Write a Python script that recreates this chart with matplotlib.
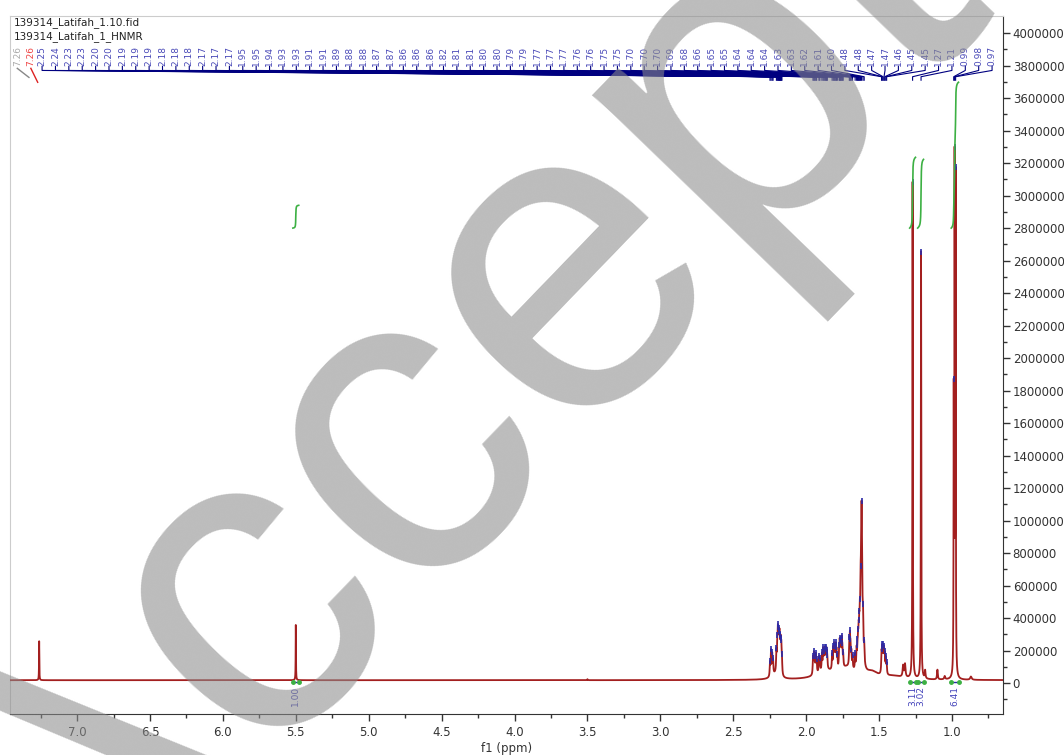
import numpy as np
import matplotlib
matplotlib.use("Agg")
import matplotlib.pyplot as plt

# picked peaks: printed label, position (ppm), height above baseline
peak_label = ["2.25", "2.24", "2.23", "2.23", "2.20", "2.20", "2.19", "2.19", "2.19", "2.18",
              "2.18", "2.18", "2.17", "2.17", "2.17", "1.95", "1.95", "1.94", "1.93", "1.93",
              "1.91", "1.91", "1.89", "1.88", "1.88", "1.87", "1.87", "1.86", "1.86", "1.86",
              "1.82", "1.81", "1.81", "1.80", "1.80", "1.79", "1.79", "1.77", "1.77", "1.77",
              "1.76", "1.76", "1.75", "1.75", "1.70", "1.70", "1.70", "1.69", "1.68", "1.66",
              "1.65", "1.65", "1.64", "1.64", "1.64", "1.63", "1.63", "1.62", "1.61", "1.60",
              "1.48", "1.48", "1.47", "1.47", "1.46", "1.45", "1.45", "1.27", "1.21", "0.99",
              "0.98", "0.97"]
peak_ppm = [2.248, 2.241, 2.233, 2.227, 2.204, 2.198, 2.194, 2.190, 2.186, 2.183,
            2.180, 2.176, 2.173, 2.170, 2.166, 1.953, 1.947, 1.941, 1.934, 1.928,
            1.912, 1.906, 1.892, 1.884, 1.878, 1.872, 1.866, 1.862, 1.858, 1.855,
            1.822, 1.814, 1.808, 1.803, 1.797, 1.792, 1.786, 1.774, 1.770, 1.766,
            1.762, 1.756, 1.752, 1.746, 1.704, 1.700, 1.696, 1.690, 1.682, 1.664,
            1.654, 1.648, 1.644, 1.640, 1.636, 1.632, 1.627, 1.620, 1.610, 1.602,
            1.483, 1.478, 1.472, 1.466, 1.461, 1.454, 1.448, 1.270, 1.212, 0.988,
            0.982, 0.975]
peak_height = [0.08, 0.15, 0.12, 0.08, 0.12, 0.15, 0.20, 0.17, 0.12, 0.15,
               0.11, 0.14, 0.10, 0.13, 0.08, 0.10, 0.12, 0.08, 0.11, 0.07,
               0.09, 0.07, 0.10, 0.12, 0.08, 0.11, 0.08, 0.09, 0.07, 0.05,
               0.09, 0.12, 0.13, 0.10, 0.13, 0.10, 0.07, 0.10, 0.13, 0.09,
               0.12, 0.15, 0.10, 0.07, 0.13, 0.16, 0.11, 0.09, 0.07, 0.09,
               0.11, 0.10, 0.13, 0.15, 0.16, 0.18, 0.22, 1.02, 0.18, 0.10,
               0.12, 0.14, 0.14, 0.13, 0.10, 0.09, 0.06, 3.06, 2.63, 1.66,
               3.08, 3.02]
peak_width = [0.0024] * 57 + [0.0055] + [0.0025] * 9 + [0.0016, 0.0016, 0.0014, 0.0014, 0.0014]

# unlabelled lines: CDCl3, olefinic H and small impurities
extra_ppm = [7.26, 5.50, 3.50, 1.335, 1.322, 1.184, 1.100, 1.050, 0.870]
extra_height = [0.24, 0.34, 0.006, 0.07, 0.08, 0.05, 0.06, 0.02, 0.02]
extra_width = [0.0012, 0.0012, 0.002, 0.004, 0.004, 0.003, 0.003, 0.004, 0.006]

# broad underlying humps
hump_ppm = [2.21, 1.86, 1.72, 1.55, 1.40]
hump_height = [0.03, 0.05, 0.06, 0.04, 0.02]
hump_width = [0.03, 0.08, 0.05, 0.05, 0.08]
baseline = 0.018

# integrals
int_from = [5.52, 1.29, 1.235, 1.005]
int_to = [5.48, 1.25, 1.195, 0.955]
int_value = ["1.00", "3.11", "3.02", "6.41"]
int_norm = [1.00, 3.11, 3.02, 6.41]

x = np.linspace(7.46, 0.65, 40000)


def lorentz(x0, h, g):
    return h * g ** 2 / ((x - x0) ** 2 + g ** 2)


spec = np.full_like(x, baseline)
for p, h, w in zip(peak_ppm + extra_ppm + hump_ppm,
                   peak_height + extra_height + hump_height,
                   peak_width + extra_width + hump_width):
    spec += lorentz(p, h, w)
spec *= 1e6

fig = plt.figure(figsize=(10.64, 7.55), dpi=100)
ax = fig.add_axes([10 / 1064, 1 - 714 / 755, 993 / 1064, 698 / 755])
ax.set_xlim(7.46, 0.65)
ax.set_ylim(-0.19e6, 4.105e6)

ax.plot(x, spec, color="#a31f1f", lw=1.3, zorder=3)

# peak tops
tops = np.interp(peak_ppm, x[::-1], spec[::-1])
ax.plot(peak_ppm, tops, ls="none", marker="|", ms=5, mew=1.2, color="#2b2ba8", zorder=4)

# integral curves
dx = abs(x[1] - x[0])
for a, b, lab, n in zip(int_from, int_to, int_value, int_norm):
    m = (x <= a) & (x >= b)
    seg = spec[m] - baseline * 1e6
    cum = np.cumsum(seg) * dx
    cum = cum / cum[-1] * n * 0.14e6
    ax.plot(x[m], 2.8e6 + cum, color="#3cb043", lw=1.2, zorder=4)
    ax.plot([a, b], [0.004e6, 0.004e6], color="#2b2ba8", lw=1, zorder=5)
    ax.plot([a, b], [0.004e6, 0.004e6], ls="none", marker="o", ms=2.5, color="#3cb043", zorder=6)
    ax.text((a + b) / 2, -0.015e6, lab, rotation=90, ha="center", va="top",
            fontsize=6.5, color="#4444bb", zorder=6)

# peak label strip
tr = ax.get_xaxis_transform()
lab_x = np.linspace(7.24, 0.725, len(peak_label))
for lx, px, lab in zip(lab_x, peak_ppm, peak_label):
    ax.text(lx, 0.943, lab, rotation=90, ha="center", va="center", fontsize=6.5,
            color="#4a4ab8", transform=tr)
    ax.plot([lx, lx, px, px], [0.928, 0.922, 0.913, 0.908], color="#000080", lw=0.8,
            transform=tr, clip_on=False)
ax.text(7.41, 0.943, "7.26", rotation=90, ha="center", va="center", fontsize=6.5,
        color="#aaaaaa", transform=tr)
ax.plot([7.41, 7.33], [0.925, 0.912], color="#888888", lw=1, transform=tr)
ax.text(7.317, 0.943, "7.26", rotation=90, ha="center", va="center", fontsize=6.5,
        color="#ee4444", transform=tr)
ax.plot([7.317, 7.27], [0.925, 0.905], color="#dd2222", lw=1, transform=tr)

ax.text(0.004, 0.991, "139314_Latifah_1.10.fid", transform=ax.transAxes, fontsize=7.5,
        color="#222222", va="center", ha="left")
ax.text(0.004, 0.970, "139314_Latifah_1_HNMR", transform=ax.transAxes, fontsize=7.5,
        color="#222222", va="center", ha="left")

# axes styling
for s in ["left", "top"]:
    ax.spines[s].set_color("#cccccc")
ax.spines["bottom"].set_color("#333333")
ax.spines["right"].set_color("#333333")
ax.yaxis.tick_right()
ax.set_yticks(np.arange(0, 4.0e6 + 1, 2e5))
ax.set_yticks(np.arange(-1e5, 4.1e6, 1e5), minor=True)
ax.set_yticklabels([str(int(v)) for v in np.arange(0, 4.0e6 + 1, 2e5)])
ax.set_xticks(np.arange(7.0, 0.9, -0.5))
ax.set_xticks(np.arange(7.25, 0.7, -0.25), minor=True)
ax.set_xticklabels(["%.1f" % v for v in np.arange(7.0, 0.9, -0.5)])
ax.tick_params(axis="both", which="major", direction="out", length=5, width=1,
               color="#333333", labelsize=8.5, labelcolor="#333333")
ax.tick_params(axis="both", which="minor", direction="out", length=3, width=1, color="#333333")
ax.tick_params(axis="y", pad=2)
ax.set_xlabel("f1 (ppm)", fontsize=8.5, color="#333333", labelpad=2)

# journal watermark
fig.text(699 / 1064, 1 - 322 / 755, "Accepted", rotation=46, rotation_mode="anchor",
         ha="center", va="baseline", fontsize=320,
         family="Liberation Sans", color="#8c8c8c", alpha=0.58, zorder=20)

fig.savefig("out.png", dpi=100)
